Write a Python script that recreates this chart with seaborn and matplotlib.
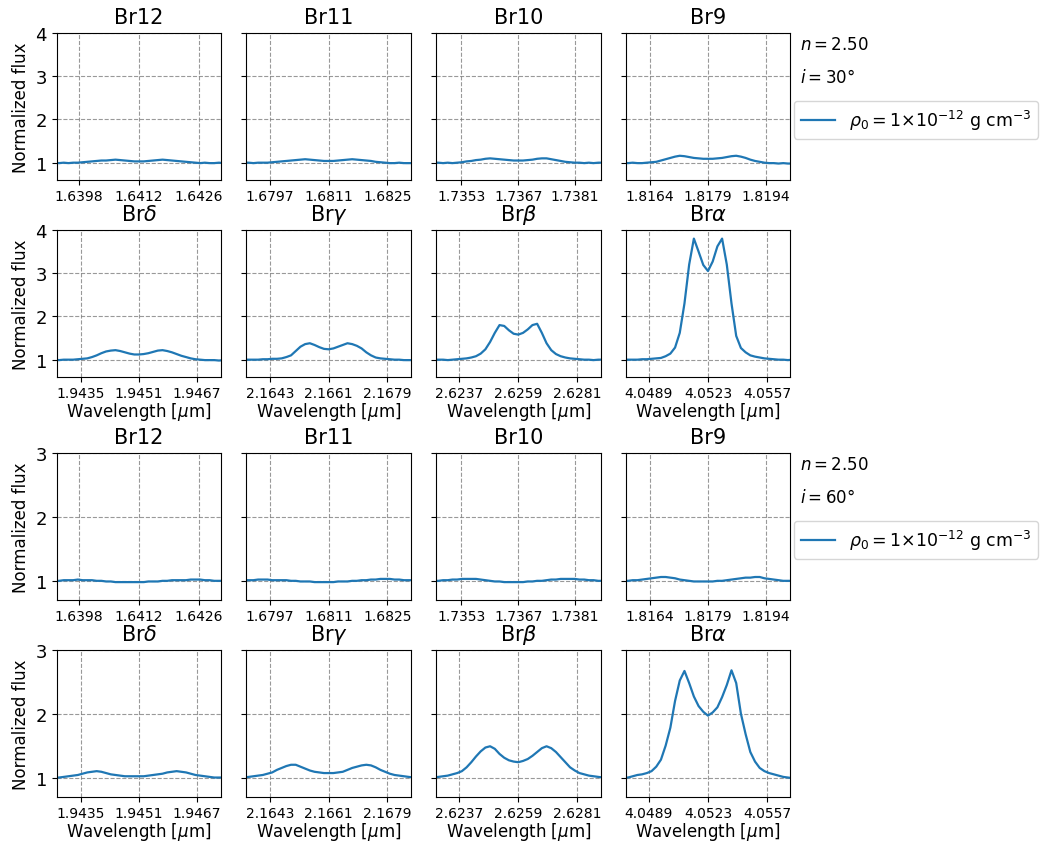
import matplotlib
matplotlib.use('Agg')
import numpy as np
import pandas as pd
import seaborn as sns
import matplotlib.pyplot as plt

line_color = '#1f77b4'
grid_color = 'gray'
c_kms = 299792.458

line_names = ['Br12', 'Br11', 'Br10', 'Br9',
              r'Br$\delta$', r'Br$\gamma$', r'Br$\beta$', r'Br$\alpha$']
line_centers = [1.6412, 1.6811, 1.7367, 1.8179, 1.9451, 2.1661, 2.6259, 4.0523]
tick_labels = [['1.6398', '1.6412', '1.6426'],
               ['1.6797', '1.6811', '1.6825'],
               ['1.7353', '1.7367', '1.7381'],
               ['1.8164', '1.8179', '1.8194'],
               ['1.9435', '1.9451', '1.9467'],
               ['2.1643', '2.1661', '2.1679'],
               ['2.6237', '2.6259', '2.6281'],
               ['4.0489', '4.0523', '4.0557']]

# velocity offsets from line centre (km/s)
velocity = [-360, -340, -320, -300, -280, -260, -240, -220, -200,
            -180, -160, -140, -120, -100, -80, -60, -40, -20,
            0, 20, 40, 60, 80, 100, 120, 140, 160,
            180, 200, 220, 240, 260, 280, 300, 320, 340, 360]

# i = 30 deg
br12_i30 = [1.00, 0.99, 1.00, 0.99, 1.00, 1.00, 1.01, 1.02, 1.03,
            1.04, 1.05, 1.05, 1.06, 1.07, 1.06, 1.05, 1.04, 1.03,
            1.03, 1.03, 1.04, 1.05, 1.06, 1.07, 1.06, 1.05, 1.04,
            1.03, 1.02, 1.01, 1.00, 0.99, 1.00, 0.99, 0.99, 1.00, 0.99]
br11_i30 = [1.00, 1.00, 0.99, 1.00, 1.00, 1.00, 1.01, 1.02, 1.03,
            1.04, 1.05, 1.06, 1.07, 1.08, 1.07, 1.06, 1.05, 1.04,
            1.04, 1.04, 1.05, 1.06, 1.07, 1.08, 1.07, 1.06, 1.05,
            1.04, 1.02, 1.01, 1.00, 0.99, 0.99, 1.00, 0.99, 0.99, 0.99]
br10_i30 = [1.00, 1.00, 0.99, 1.00, 0.99, 1.00, 1.01, 1.03, 1.04,
            1.06, 1.07, 1.09, 1.10, 1.09, 1.08, 1.07, 1.06, 1.05,
            1.05, 1.05, 1.06, 1.07, 1.09, 1.10, 1.10, 1.08, 1.06,
            1.04, 1.02, 1.01, 1.00, 1.00, 0.99, 1.00, 0.99, 1.00, 1.00]
br9_i30 = [1.00, 0.99, 1.00, 0.99, 0.99, 1.00, 1.01, 1.02, 1.05,
           1.08, 1.11, 1.14, 1.16, 1.15, 1.13, 1.11, 1.10, 1.09,
           1.09, 1.09, 1.10, 1.11, 1.13, 1.15, 1.16, 1.14, 1.11,
           1.07, 1.04, 1.02, 1.00, 0.99, 0.99, 0.98, 0.99, 0.98, 0.98]
brd_i30 = [1.00, 0.99, 1.00, 1.00, 1.00, 1.01, 1.02, 1.03, 1.06,
           1.10, 1.15, 1.19, 1.21, 1.22, 1.20, 1.17, 1.14, 1.12,
           1.12, 1.13, 1.15, 1.18, 1.21, 1.22, 1.20, 1.17, 1.13,
           1.09, 1.06, 1.03, 1.01, 1.00, 0.99, 0.99, 0.99, 0.98, 0.99]
brg_i30 = [1.00, 1.00, 1.00, 1.00, 1.01, 1.01, 1.02, 1.02, 1.03,
           1.06, 1.10, 1.20, 1.30, 1.36, 1.38, 1.34, 1.29, 1.25,
           1.24, 1.26, 1.30, 1.34, 1.38, 1.36, 1.32, 1.26, 1.17,
           1.10, 1.05, 1.03, 1.02, 1.01, 1.00, 1.00, 0.99, 0.99, 0.99]
brb_i30 = [1.00, 1.00, 1.00, 0.99, 1.00, 1.01, 1.02, 1.03, 1.05,
           1.08, 1.14, 1.24, 1.41, 1.62, 1.80, 1.78, 1.68, 1.60,
           1.58, 1.62, 1.70, 1.80, 1.83, 1.62, 1.38, 1.22, 1.13,
           1.08, 1.05, 1.03, 1.02, 1.01, 1.00, 1.00, 0.99, 1.00, 1.00]
bra_i30 = [1.00, 1.00, 1.00, 1.00, 1.01, 1.01, 1.02, 1.03, 1.04,
           1.08, 1.14, 1.28, 1.62, 2.30, 3.20, 3.80, 3.50, 3.19,
           3.05, 3.27, 3.62, 3.80, 3.20, 2.30, 1.55, 1.27, 1.17,
           1.10, 1.07, 1.05, 1.03, 1.02, 1.01, 1.00, 1.00, 0.99, 1.00]

# i = 60 deg
br12_i60 = [1.00, 1.00, 1.01, 1.01, 1.01, 1.02, 1.01, 1.01, 1.01,
            1.00, 1.00, 0.99, 0.99, 0.98, 0.98, 0.98, 0.98, 0.98,
            0.98, 0.98, 0.99, 0.99, 0.99, 1.00, 1.00, 1.01, 1.01,
            1.01, 1.01, 1.02, 1.02, 1.02, 1.01, 1.01, 1.00, 1.00, 1.00]
br11_i60 = [1.01, 1.01, 1.01, 1.02, 1.02, 1.02, 1.01, 1.01, 1.01,
            1.01, 1.00, 1.00, 0.99, 0.99, 0.99, 0.98, 0.98, 0.98,
            0.98, 0.98, 0.99, 0.99, 0.99, 1.00, 1.00, 1.01, 1.01,
            1.02, 1.02, 1.03, 1.03, 1.03, 1.02, 1.02, 1.01, 1.01, 1.01]
br10_i60 = [1.00, 1.00, 1.01, 1.01, 1.02, 1.02, 1.03, 1.03, 1.03,
            1.03, 1.02, 1.01, 1.00, 0.99, 0.99, 0.98, 0.98, 0.98,
            0.98, 0.98, 0.99, 0.99, 1.00, 1.00, 1.01, 1.02, 1.02,
            1.03, 1.03, 1.03, 1.03, 1.02, 1.02, 1.01, 1.01, 1.00, 1.00]
br9_i60 = [1.00, 1.00, 1.01, 1.01, 1.02, 1.03, 1.04, 1.05, 1.06,
           1.06, 1.05, 1.04, 1.02, 1.01, 1.00, 0.99, 0.99, 0.99,
           0.99, 0.99, 1.00, 1.00, 1.01, 1.02, 1.03, 1.04, 1.05,
           1.05, 1.06, 1.06, 1.04, 1.03, 1.02, 1.01, 1.00, 1.00, 1.00]
brd_i60 = [1.00, 1.00, 1.01, 1.02, 1.03, 1.04, 1.06, 1.08, 1.09,
           1.10, 1.09, 1.07, 1.05, 1.04, 1.03, 1.02, 1.02, 1.02,
           1.02, 1.02, 1.03, 1.04, 1.05, 1.06, 1.08, 1.09, 1.10,
           1.09, 1.08, 1.06, 1.04, 1.03, 1.02, 1.01, 1.00, 1.00, 1.00]
brg_i60 = [1.00, 1.01, 1.02, 1.03, 1.04, 1.06, 1.08, 1.12, 1.15,
           1.18, 1.20, 1.20, 1.17, 1.14, 1.11, 1.09, 1.08, 1.07,
           1.07, 1.07, 1.08, 1.09, 1.12, 1.15, 1.17, 1.19, 1.20,
           1.19, 1.16, 1.12, 1.09, 1.06, 1.04, 1.03, 1.02, 1.01, 1.00]
brb_i60 = [1.00, 1.01, 1.02, 1.03, 1.05, 1.07, 1.10, 1.16, 1.24,
           1.33, 1.41, 1.47, 1.49, 1.45, 1.37, 1.31, 1.27, 1.25,
           1.24, 1.26, 1.29, 1.34, 1.40, 1.46, 1.49, 1.46, 1.40,
           1.32, 1.24, 1.16, 1.11, 1.07, 1.05, 1.03, 1.02, 1.01, 1.00]
bra_i60 = [1.00, 1.00, 1.02, 1.04, 1.05, 1.07, 1.10, 1.17, 1.28,
           1.50, 1.78, 2.20, 2.52, 2.67, 2.48, 2.27, 2.12, 2.03,
           1.97, 2.02, 2.10, 2.26, 2.45, 2.68, 2.48, 2.00, 1.68,
           1.40, 1.25, 1.15, 1.10, 1.07, 1.05, 1.03, 1.01, 1.00, 0.99]

flux_i30 = [br12_i30, br11_i30, br10_i30, br9_i30, brd_i30, brg_i30, brb_i30, bra_i30]
flux_i60 = [br12_i60, br11_i60, br10_i60, br9_i60, brd_i60, brg_i60, brb_i60, bra_i60]

legend_label = r'$\rho_0 = 1{\times}10^{-12}$ g cm$^{-3}$'

fig = plt.figure(figsize=(10.48, 8.45), dpi=100)

blocks = [(flux_i30, 30, 0.9598, 0.5527, (0.6, 4.0), [1, 2, 3, 4]),
          (flux_i60, 60, 0.4625, 0.0560, (0.7, 3.0), [1, 2, 3])]

for fluxes, incl, top, bottom, ylim, yticks in blocks:
    gs = fig.add_gridspec(2, 4, left=0.0541, right=0.7541, top=top, bottom=bottom,
                          wspace=0.152, hspace=0.34)
    for k in range(8):
        r, col = divmod(k, 4)
        ax = fig.add_subplot(gs[r, col])
        center = line_centers[k]
        df = pd.DataFrame({'velocity': velocity, 'flux': fluxes[k]})
        df['wavelength'] = center * (1 + df['velocity'] / c_kms)
        sns.lineplot(data=df, x='wavelength', y='flux', ax=ax, color=line_color,
                     linewidth=1.6, label=legend_label if k == 3 else None, legend=False)
        ax.set_xlim(center * (1 - 350 / c_kms), center * (1 + 350 / c_kms))
        ax.set_xticks([float(t) for t in tick_labels[k]])
        ax.set_xticklabels(tick_labels[k], fontsize=10)
        ax.tick_params(axis='x', pad=3)
        ax.set_ylim(*ylim)
        ax.set_yticks(yticks)
        if col == 0:
            ax.set_yticklabels([str(t) for t in yticks], fontsize=13)
            ax.set_ylabel('Normalized flux', fontsize=12)
        else:
            ax.set_yticklabels([])
            ax.set_ylabel('')
        ax.set_xlabel(r'Wavelength [$\mu$m]' if r == 1 else '', fontsize=12, labelpad=0)
        ax.set_title(line_names[k], fontsize=15, pad=7)
        ax.grid(True, linestyle='--', color=grid_color, linewidth=0.8, alpha=0.8)
        if k == 3:
            ax.text(1.06, 0.925, r'$n = 2.50$', transform=ax.transAxes,
                    fontsize=12, va='center')
            ax.text(1.06, 0.70, r'$i = %d\degree$' % incl, transform=ax.transAxes,
                    fontsize=12, va='center')
            ax.legend(loc='upper left', bbox_to_anchor=(1.02, 0.54), borderaxespad=0,
                      fontsize=12.5, frameon=True)

plt.savefig('out.png', dpi=100)
